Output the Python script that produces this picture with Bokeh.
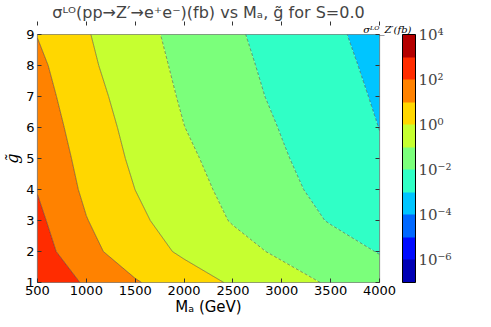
import numpy as np
from bokeh.plotting import figure
from bokeh.models import (ColorBar, LinearColorMapper, FixedTicker, LinearAxis,
                          Range1d, Title)
from bokeh.embed import file_html
from bokeh.resources import INLINE

# ---- data ----
mass = [500, 1000, 1500, 2000, 2500, 3000, 3500, 4000]          # M_A (GeV)
gtilde = [1, 2, 3, 4, 5, 6, 7, 8, 9]                            # g~
# log10(sigma / fb) along M_A for each g~ row
log10_sigma_g1 = [2.85, 1.87, 1.08, 0.467, -0.107, -0.612, -1.105, -1.56]
log10_sigma_g2 = [2.45, 1.276, 0.483, -0.151, -0.670, -1.161, -1.602, -2.044]
log10_sigma_g3 = [2.21, 1.035, 0.205, -0.46, -1.06, -1.56, -2.06, -2.56]
log10_sigma_g4 = [1.96, 0.812, -0.004, -0.651, -1.242, -1.768, -2.286, -2.796]
log10_sigma_g5 = [1.80, 0.651, -0.164, -0.819, -1.386, -1.918, -2.418, -2.911]
log10_sigma_g6 = [1.60, 0.504, -0.288, -0.989, -1.52, -2.043, -2.527, -3.01]
log10_sigma_g7 = [1.41, 0.357, -0.427, -1.107, -1.66, -2.179, -2.646, -3.104]
log10_sigma_g8 = [1.227, 0.19, -0.559, -1.206, -1.764, -2.272, -2.745, -3.2]
log10_sigma_g9 = [0.97, 0.069, -0.67, -1.306, -1.869, -2.368, -2.848, -3.297]

levels = [-7, -6, -5, -4, -3, -2, -1, 0, 1, 2, 3, 4]           # log10 levels
solid_levels = [0, 1, 2, 3]
dashed_levels = [-7, -6, -5, -4, -3, -2, -1]
cbar_ticks = [-6, -4, -2, 0, 2, 4]
cbar_labels = ["10⁻⁶", "10⁻⁴", "10⁻²", "10⁰", "10²", "10⁴"]
palette = ["#0000b4", "#000bff", "#0068ff", "#00c5ff", "#30ffc6", "#7bff7b",
           "#c6ff30", "#ffd700", "#ff8200", "#ff2c00", "#b40000"]

z = np.array([log10_sigma_g1, log10_sigma_g2, log10_sigma_g3, log10_sigma_g4,
              log10_sigma_g5, log10_sigma_g6, log10_sigma_g7, log10_sigma_g8,
              log10_sigma_g9])

p = figure(frame_width=342, frame_height=248, output_backend="svg",
           toolbar_location=None,
           x_range=Range1d(500, 4000), y_range=Range1d(1, 9),
           min_border_left=30, min_border_top=0, min_border_bottom=0,
           min_border_right=100,
           title="σᴸᴼ(pp→Z′→e⁺e⁻)(fb) vs Mₐ, g̃ for S=0.0")
p.title.align = "center"
p.title.text_font = "DejaVu Sans"
p.title.text_font_size = "16px"
p.title.text_font_style = "normal"
p.title.standoff = 0

# colour-bar quantity label (sigma^LO_Z'(fb)), placed top right
cb_title = Title(text="σᴸᴼ_Z′(fb)", align="right", offset=-32, standoff=0,
                 text_font="DejaVu Serif", text_font_style="italic",
                 text_font_size="10px", text_color="black")
p.add_layout(cb_title, "above")

p.contour(x=mass, y=gtilde, z=z, levels=levels, fill_color=palette)
p.contour(x=mass, y=gtilde, z=z, levels=solid_levels,
          line_color="#333333", line_alpha=0.6, line_width=0.8)
p.contour(x=mass, y=gtilde, z=z, levels=dashed_levels,
          line_color="#333333", line_alpha=0.6, line_width=0.8, line_dash="3 2")

p.grid.visible = False
p.outline_line_color = "#7f7f7f"
p.outline_line_width = 1.2
p.background_fill_color = "white"

for ax in (p.xaxis[0], p.yaxis[0]):
    ax.major_tick_in = 4
    ax.major_tick_out = 0
    ax.minor_tick_line_color = None
    ax.axis_line_color = None
    ax.major_tick_line_color = "#333333"
    ax.major_label_text_font = "DejaVu Sans"
    ax.major_label_text_font_size = "13px"
    ax.major_label_text_color = "black"
    ax.axis_label_text_font_style = "normal"
    ax.axis_label_text_font_size = "15px"
    ax.axis_label_text_font = "DejaVu Sans"
    ax.axis_label_text_color = "black"
    ax.major_label_standoff = 3
    ax.axis_label_standoff = 0

p.yaxis.axis_label_text_font = "DejaVu Serif"
p.yaxis.axis_label_text_font_style = "italic"
p.yaxis.axis_label_text_font_size = "16px"
p.yaxis.axis_label_standoff = 1
p.xaxis.ticker = FixedTicker(ticks=mass)
p.yaxis.ticker = FixedTicker(ticks=gtilde)
p.xaxis.axis_label = "Mₐ (GeV)"
p.yaxis.axis_label = "g̃"

for side in ("above", "right"):
    ax = LinearAxis(ticker=FixedTicker(ticks=mass if side == "above" else gtilde))
    ax.major_tick_in = 4
    ax.major_tick_out = 0
    ax.minor_tick_line_color = None
    ax.axis_line_color = None
    ax.major_tick_line_color = "#333333"
    ax.major_label_text_font_size = "1px"
    ax.major_label_text_color = None
    ax.major_label_standoff = 0
    p.add_layout(ax, side)

mapper = LinearColorMapper(palette=palette, low=levels[0], high=levels[-1])
cb = ColorBar(color_mapper=mapper, ticker=FixedTicker(ticks=cbar_ticks),
              major_label_overrides=dict(zip(cbar_ticks, cbar_labels)),
              width=13, height=248, padding=0, margin=0, location=(23, 0),
              bar_line_color="black", major_tick_line_color=None,
              minor_tick_line_color=None, label_standoff=3,
              major_label_text_font="DejaVu Serif",
              major_label_text_font_size="15px",
              background_fill_color=None)
p.add_layout(cb, "right")

open("out.html", "w").write(file_html(p, INLINE))
